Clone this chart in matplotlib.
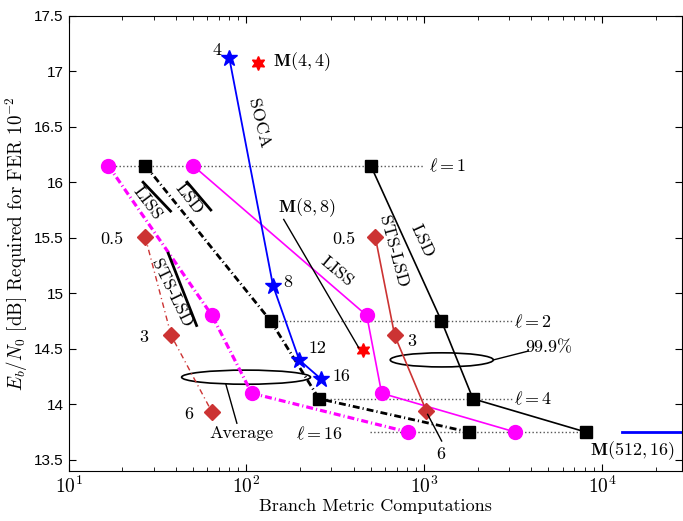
import matplotlib
matplotlib.use('Agg')
import matplotlib.pyplot as plt
from matplotlib.patches import Ellipse

plt.rcParams['mathtext.fontset'] = 'cm'
plt.rcParams['axes.formatter.use_mathtext'] = True
plt.rcParams['lines.scale_dashes'] = False

# --- data ---
lsd_y = [16.15, 14.75, 14.05, 13.75]          # l = 1, 2, 4, 16
lsd999_x = [500, 1250, 1880, 8130]
lsd_avg_x = [27, 137, 256, 1790]

liss_y = [16.15, 14.8, 14.1, 13.75]
liss999_x = [50, 475, 576, 3260]
liss_avg_x = [16.7, 64, 107, 813]

sts999_x = [530, 682, 1028]                    # 0.5, 3, 6
sts999_y = [15.51, 14.62, 13.94]
sts_avg_x = [26.9, 37.7, 64]
sts_avg_y = [15.51, 14.62, 13.93]

soca_x = [80, 141, 198, 262]                   # 4, 8, 12, 16
soca_y = [17.12, 15.07, 14.40, 14.23]

m_star_x = [116, 450]                          # M(4,4), M(8,8)
m_star_y = [17.07, 14.49]
m512_x = [1.3e4, 3e4]
m512_y = [13.75, 13.75]

ell_lines = [(16.7, 1000, 16.15), (137, 3180, 14.75), (256, 3180, 14.05), (493, 8130, 13.75)]

red = '#cc3333'
mag = '#ff00ff'
serif = 'cmr10'
fs = 13
dashdot = (0, (5, 2.2, 0.8, 2.2))

fig = plt.figure(figsize=(6.83, 5.21), dpi=100)
ax = fig.add_axes([0.1006, 0.096, 0.8984, 0.874])

# dotted level lines
for x0, x1, yy in ell_lines:
    ax.plot([x0, x1], [yy, yy], ':', color='#555555', lw=1)

# LSD
ax.plot(lsd999_x, lsd_y, 'k-', lw=1.2, marker='s', ms=9)
ax.plot(lsd_avg_x, lsd_y, color='k', linestyle=dashdot, lw=2, marker='s', ms=9)
# LISS
ax.plot(liss999_x, liss_y, '-', color=mag, lw=1.2, marker='o', ms=10)
ax.plot(liss_avg_x, liss_y, color=mag, linestyle=dashdot, lw=2.3, marker='o', ms=10)
# STS-LSD
ax.plot(sts999_x, sts999_y, '-', color=red, lw=1.2, marker='D', ms=8)
ax.plot(sts_avg_x, sts_avg_y, color=red, linestyle=(0, (4, 2.5, 0.8, 2.5)), lw=1, marker='D', ms=8)
# SOCA
ax.plot(soca_x, soca_y, '-', color='#0000ff', lw=1.3, marker='*', ms=12)
# M-algorithm
ax.plot(m_star_x, m_star_y, linestyle='none', color='#ff0000', marker=(6, 1, 0), ms=10)
ax.plot(m512_x, m512_y, '-', color='#0000ff', lw=2)

ax.set_xscale('log')
ax.set_xlim(10, 2.83e4)
ax.set_ylim(13.4, 17.5)
ax.set_xticks([10, 100, 1000, 10000])
ax.set_xticklabels([r'$\mathsf{10^{%d}}$' % i for i in range(1, 5)], fontsize=14)
ax.set_yticks([13.5, 14, 14.5, 15, 15.5, 16, 16.5, 17, 17.5])
ax.set_yticklabels(['13.5', '14', '14.5', '15', '15.5', '16', '16.5', '17', '17.5'],
                   fontsize=11, family='Liberation Sans')
ax.tick_params(which='both', direction='in', top=True, right=True)
ax.tick_params(which='major', length=5)
ax.tick_params(which='minor', length=3)

ax.set_xlabel('Branch Metric Computations', family=serif, fontsize=13, labelpad=1)
ax.set_ylabel(r'$E_b/N_0$ [dB] Required for FER $10^{-2}$', family=serif, fontsize=13.7, labelpad=3)

def txt(x, y, s, **kw):
    kw.setdefault('ha', 'center')
    kw.setdefault('va', 'center')
    ax.text(x, y, s, family=serif, fontsize=fs, **kw)

# SOCA labels
txt(68, 17.19, '4')
txt(171, 15.10, '8')
txt(252, 14.50, '12')
txt(343, 14.25, '16')
txt(117, 16.53, 'SOCA', rotation=-76)

# M labels
txt(141, 17.09, r'$\mathbf{M}(4,4)$', ha='left')
txt(150, 15.77, r'$\mathbf{M}(8,8)$', ha='left')
ax.plot([162, 428], [15.665, 14.51], 'k-', lw=1)
txt(8590, 13.58, r'$\mathbf{M}(512,16)$', ha='left', clip_on=False)

# level labels
txt(1057, 16.15, r'$\ell = 1$', ha='left')
txt(3215, 14.75, r'$\ell = 2$', ha='left')
txt(3215, 14.05, r'$\ell = 4$', ha='left')
txt(189, 13.74, r'$\ell = 16$', ha='left')

# STS-LSD parameter labels
txt(17.5, 15.49, '0.5')
txt(352, 15.49, '0.5')
txt(26.5, 14.60, '3')
txt(849, 14.57, '3')
txt(47.4, 13.91, '6')
txt(1236, 13.55, '6')
ax.plot([1045, 1253], [13.91, 13.67], 'k-', lw=1)

# curve names (99.9%)
txt(321, 15.20, 'LISS', rotation=-40)
txt(973, 15.47, 'LSD', rotation=-65)
txt(672, 15.38, 'STS-LSD', rotation=-75)

# curve names (average), with bars
txt(27.9, 15.81, 'LISS', rotation=-53)
txt(47.7, 15.85, 'LSD', rotation=-52)
txt(38, 15.0, 'STS-LSD', rotation=-64)
ax.plot([26.2, 37.4], [16.0, 15.74], 'k-', lw=2)
ax.plot([46.4, 63], [16.0, 15.75], 'k-', lw=2)
ax.plot([36.3, 52.4], [15.36, 14.71], 'k-', lw=2)

# ellipses and their labels
ax.add_patch(Ellipse((0.608, 0.244), 0.168, 0.031, transform=ax.transAxes,
                     fill=False, ec='k', lw=1.2))
ax.add_patch(Ellipse((0.289, 0.206), 0.21, 0.031, transform=ax.transAxes,
                     fill=False, ec='k', lw=1.2))
ax.plot([2449, 3855], [14.40, 14.48], 'k-', lw=1)
txt(3707, 14.51, '99.9%', ha='left')
ax.plot([76.6, 88.3], [14.18, 13.83], 'k-', lw=1)
txt(62.2, 13.74, 'Average', ha='left')

fig.savefig('out.png', dpi=100)
